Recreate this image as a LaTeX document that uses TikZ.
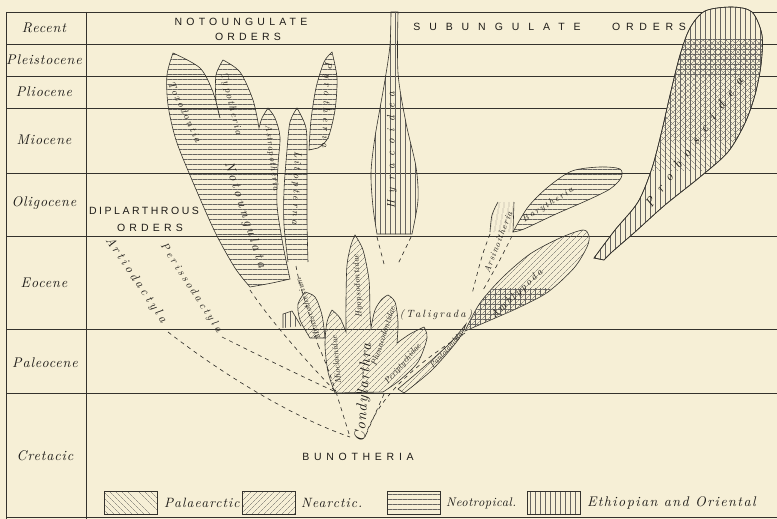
\documentclass[tikz,border=0pt]{standalone}
\usepackage{fontspec}
\newfontfamily\hand{lmroman10-italic.otf}
\newfontfamily\caps{Liberation Sans}
\usetikzlibrary{patterns.meta, positioning}
\definecolor{papel}{RGB}{246,239,214}
\definecolor{tinta}{RGB}{52,50,45}
\definecolor{letra}{RGB}{30,28,25}
\newcommand\trunkpath{plot[smooth] coordinates {(594,258) (615,230) (638,202) (652,168) (662,130) (670,95) (680,55) (690,28) (705,11) (732,7) (752,12) (762,35) (761,65) (755,95) (745,123) (728,152) (700,177) (665,205) (635,232) (612,252) (604,260)} -- cycle}
\newcommand\amblypath{(465,331) -- plot[smooth] coordinates {(465,331) (480,303) (503,277) (530,254) (560,238) (583,230) (589,236) (587,247) (574,268) (548,292) (520,307) (493,319) (465,331)} -- cycle}

\begin{document}
\begin{tikzpicture}[x=1pt, y=-1pt,
      rule/.style={draw=tinta, line width=0.6pt},
      edge/.style={draw=tinta, line width=0.6pt},
      blank/.style={preaction={fill=papel}},
      palae/.style={pattern={Lines[angle=-45,distance=4pt,line width=0.3pt]}, pattern color=tinta!75},
      nearc/.style={pattern={Lines[angle=45,distance=4pt,line width=0.3pt]}, pattern color=tinta!75},
      neotr/.style={pattern={Lines[angle=0,distance=5pt,line width=0.3pt]}, pattern color=tinta!75},
      ethor/.style={pattern={Lines[angle=90,distance=5pt,line width=0.3pt]}, pattern color=tinta!75},
      link/.style={draw=tinta, line width=0.65pt, dash pattern=on 4pt off 4pt},
      period/.style={font=\hand\fontsize{14}{16}\selectfont\addfontfeatures{LetterSpace=6}, text=letra},
      order/.style={font=\caps\fontsize{10.5}{12}\selectfont\addfontfeatures{LetterSpace=40}, text=letra, inner sep=0pt},
      taxon/.style={font=\hand\fontsize{10}{12}\selectfont\addfontfeatures{LetterSpace=20}, text=letra, inner sep=0pt},
      keybox/.style={draw=tinta, line width=0.6pt, minimum width=53pt, minimum height=23pt, inner sep=0pt},
      key/.style={font=\hand\fontsize{13.5}{15}\selectfont\addfontfeatures{LetterSpace=8}, text=letra, inner sep=0pt}]
      \fill[papel] (0,0) rectangle (777,519);
      \useasboundingbox (0,0) rectangle (777,519);
      % Rows of the table
      \foreach \yy in {12,44,76,108,173,236,329,393,517}
        \draw[rule] (6,\yy) -- (777,\yy);
      \draw[rule] (6,12) -- (6,519);
      \draw[rule] (86,12) -- (86,519);
      % Periods
      \node[period] (recent) at (44,28) {Recent};
      \node[period] (pleisto) at (44,60) {Pleistocene};
      \node[period] (plio) at (44,92) {Pliocene};
      \node[period] (mio) at (44,140) {Miocene};
      \node[period] (oligo) at (44,203) {Oligocene};
      \node[period] (eo) at (44,283) {Eocene};
      \node[period] (paleo) at (45,363) {Paleocene};
      \node[period] (creta) at (45,456) {Cretacic};
      % Order headings
      \node[order] (noto) at (241,22) {NOTOUNGULATE};
      \node[order] (notord) at (248,37) {ORDERS};
      \node[order, font=\caps\fontsize{10.5}{12}\selectfont\addfontfeatures{LetterSpace=85}] (subung) at (497,27) {SUBUNGULATE};
      \node[order, font=\caps\fontsize{10.5}{12}\selectfont\addfontfeatures{LetterSpace=55}] (subord) at (649,27) {ORDERS};
      \node[order, font=\caps\fontsize{10.5}{12}\selectfont\addfontfeatures{LetterSpace=24}] (dipla) at (144,211) {DIPLARTHROUS};
      \node[order] (diplord) at (150,228) {ORDERS};
      \node[order, font=\caps\fontsize{10.5}{12}\selectfont\addfontfeatures{LetterSpace=45}] (buno) at (358,457) {BUNOTHERIA};
      % Notoungulate orders
      \draw[edge,neotr] plot[smooth] coordinates {(173,53) (167,75) (168,105) (176,140) (192,180) (215,232) (235,268) (250,287)}
        -- plot[smooth] coordinates {(250,287) (272,283) (290,279)}
        -- plot[smooth] coordinates {(290,279) (283,245) (277,205) (278,165) (280,137) (275,118) (268,108)}
        -- plot[smooth] coordinates {(268,108) (262,118) (259,128)}
        -- plot[smooth] coordinates {(259,128) (253,100) (240,72) (223,60)}
        -- plot[smooth] coordinates {(223,60) (216,75) (216,100) (220,118)}
        -- plot[smooth] coordinates {(220,118) (213,92) (200,68) (173,53)} -- cycle;
      \fill[neotr] (297,108) -- plot[smooth] coordinates {(297,108) (290,122) (287,150) (284,190) (284,225) (288,262)}
        -- (308,262) -- plot[smooth] coordinates {(308,262) (307,220) (307,160) (306,128) (297,108)};
      \draw[edge] plot[smooth] coordinates {(288,262) (284,225) (284,190) (287,150) (290,122) (297,108)}
        -- plot[smooth] coordinates {(297,108) (306,128) (307,160) (307,220) (308,262)};
      \draw[edge,neotr] plot[smooth] coordinates {(332,52) (324,62) (316,88) (311,120) (309,150)}
        -- (318,148) -- plot[smooth] coordinates {(318,148) (328,138) (335,110) (337,78) (332,52)} -- cycle;
      \node[taxon, rotate=-65] (toxo) at (185,112) {Toxodontia};
      \node[taxon, rotate=-76] (typo) at (231,104) {Typotheria};
      \node[taxon, rotate=-83, font=\hand\fontsize{9}{10}\selectfont\addfontfeatures{LetterSpace=12}] (astra) at (272,158) {Astrapotheria};
      \node[taxon, rotate=-92, font=\hand\fontsize{10}{12}\selectfont\addfontfeatures{LetterSpace=30}] (lito) at (296,188) {Litopterna};
      \node[taxon, rotate=-92, font=\hand\fontsize{10}{12}\selectfont\addfontfeatures{LetterSpace=45}] (pyro) at (326,105) {Pyrotheria};
      \node[taxon, rotate=-72, font=\hand\fontsize{13}{14}\selectfont\addfontfeatures{LetterSpace=25}] (notoung) at (245,215) {Notoungulata};
      % Subungulate orders
      \draw[edge,ethor] plot[smooth] coordinates {(391,12) (390,45) (385,80) (375,137) (371,173) (373,207) (377,234)}
        -- (412,234) -- plot[smooth] coordinates {(412,234) (418,200) (416,167) (406,123) (398,73) (398,12)} -- cycle;
      \node[taxon, rotate=90, font=\hand\fontsize{11}{12}\selectfont\addfontfeatures{LetterSpace=65}] (hyrax) at (392,150) {Hyracoidea};
      \draw[edge,blank,ethor] \trunkpath;
      \begin{scope}
        \clip \trunkpath;
        \fill[palae] (630,40) rectangle (777,170);
        \fill[nearc] (630,40) rectangle (777,140);
        \fill[neotr] (630,40) rectangle (777,76);
      \end{scope}
      \draw[edge] \trunkpath;
      \node[taxon, rotate=54, font=\hand\fontsize{13}{14}\selectfont\addfontfeatures{LetterSpace=70}] (probo) at (694,142) {Proboscidea};
      \draw[edge,neotr] (513,232) -- plot[smooth] coordinates {(513,232) (528,207) (548,187) (572,171) (600,167) (620,169) (621,178) (610,189) (588,200) (556,214) (524,229) (513,232)} -- cycle;
      \node[taxon, rotate=32, font=\hand\fontsize{9}{10}\selectfont\addfontfeatures{LetterSpace=20}] (bary) at (548,205) {Barytheria};
      \fill[pattern={Lines[angle=80,distance=4pt,line width=0.3pt]}, pattern color=tinta!75]
        plot[smooth] coordinates {(498,202) (492,215) (490,232)} -- (513,232) -- (514,202) -- cycle;
      \draw[edge] plot[smooth] coordinates {(498,202) (492,215) (490,232)};
      \draw[edge] (514,202) -- (513,232);
      \node[taxon, rotate=69, font=\hand\fontsize{9}{10}\selectfont\addfontfeatures{LetterSpace=12}] (arsino) at (498,242) {Arsinoitheria};
      \draw[edge,nearc] \amblypath;
      \begin{scope}
        \clip \amblypath;
        \fill[neotr] (455,288) rectangle (550,340);
        \fill[ethor] (455,288) rectangle (550,340);
      \end{scope}
      \node[taxon, rotate=43, font=\hand\fontsize{10}{12}\selectfont\addfontfeatures{LetterSpace=25}] (ambly) at (517,294) {Amblypoda};
      \node[taxon, font=\hand\fontsize{10.5}{12}\selectfont\addfontfeatures{LetterSpace=20}] (tali) at (436,315) {(Taligrada)};
      % Condylarthra
      \draw[edge,nearc] plot[smooth] coordinates {(335,393) (328,372) (325,345) (327,322) (332,310)}
        -- plot[smooth] coordinates {(332,310) (340,318) (346,332)}
        -- plot[smooth] coordinates {(346,332) (346,300) (347,265) (351,245) (355,235)}
        -- plot[smooth] coordinates {(355,235) (363,250) (369,280) (370,313) (371,328)}
        -- plot[smooth] coordinates {(371,328) (375,310) (382,299) (388,295)}
        -- plot[smooth] coordinates {(388,295) (395,302) (398,322) (397,343)}
        -- plot[smooth] coordinates {(397,343) (410,334) (424,327)}
        -- plot[smooth] coordinates {(424,327) (427,338) (418,362) (400,380) (383,392)} -- cycle;
      \draw[edge,nearc] plot[smooth] coordinates {(398,389) (425,366) (450,343) (466,324)}
        -- plot[smooth] coordinates {(466,324) (458,340) (432,370) (404,393)} -- cycle;
      \draw[edge,nearc] plot[smooth] coordinates {(310,338) (300,320) (298,304) (305,292)}
        -- plot[smooth] coordinates {(305,292) (315,297) (322,315) (325,338)} -- cycle;
      \draw[edge,ethor] (283,328) -- (283,314) -- (292,311) -- (301,326);
      \node[taxon, rotate=108, font=\hand\fontsize{8.5}{9}\selectfont\addfontfeatures{LetterSpace=5}] (menisco) at (308,309) {Meniscotherium};
      \node[taxon, rotate=95, font=\hand\fontsize{8.5}{9}\selectfont] (mioc) at (336,360) {Mioclaenidae};
      \node[taxon, rotate=93, font=\hand\fontsize{8.5}{9}\selectfont\addfontfeatures{LetterSpace=5}] (hyop) at (358,286) {Hyopsodontidae};
      \node[taxon, rotate=72, font=\hand\fontsize{8.5}{9}\selectfont] (phena) at (383,336) {Phenacodontidae};
      \node[taxon, rotate=49, font=\hand\fontsize{8.5}{9}\selectfont] (peri) at (403,364) {Periptychidae};
      \node[taxon, rotate=48, font=\hand\fontsize{8}{9}\selectfont] (panto) at (446,350) {Pantolambda};
      \node[taxon, rotate=86, font=\hand\fontsize{15}{16}\selectfont\addfontfeatures{LetterSpace=8}] (condy) at (364,393) {Condylarthra};
      % Diplarthrous orders
      \node[taxon, rotate=-56, font=\hand\fontsize{12.5}{14}\selectfont\addfontfeatures{LetterSpace=25}] (artio) at (136,280) {Artiodactyla};
      \node[taxon, rotate=-57, font=\hand\fontsize{11}{12}\selectfont\addfontfeatures{LetterSpace=25}] (periss) at (191,288) {Perissodactyla};
      % Dashed stems
      \coordinate (root) at (350,437);
      \coordinate (rootR) at (365,437);
      \coordinate (condybase) at (336,392);
      \coordinate (artiotip) at (168,332);
      \coordinate (perisstip) at (222,337);
      \draw[link] (artiotip) .. controls (230,380) and (300,420) .. (root);
      \draw[link] (perisstip) .. controls (260,356) and (305,378) .. (condybase);
      \draw[link] (250,290) .. controls (270,320) and (305,360) .. (condybase);
      \draw[link] (296,266) .. controls (300,290) and (312,320) .. (318,345);
      \draw[link] (318,345) .. controls (325,360) and (332,380) .. (condybase);
      \draw[link] (condybase) -- (root);
      \coordinate (condyR) at (384,394);
      \draw[link] (condyR) -- (rootR);
      \coordinate (amblytip) at (465,333);
      \draw[link] (amblytip) .. controls (430,355) and (380,390) .. (rootR);
      \coordinate (hyraxL) at (377,237);
      \coordinate (hyraxLend) at (384,264);
      \coordinate (hyraxR) at (411,237);
      \coordinate (hyraxRend) at (398,264);
      \draw[link] (hyraxL) -- (hyraxLend);
      \draw[link] (hyraxR) -- (hyraxRend);
      \coordinate (arsL) at (490,234);
      \coordinate (arsR) at (512,236);
      \coordinate (arsend) at (472,294);
      \draw[link] (arsL) .. controls (482,255) .. (arsend);
      \draw[link] (arsR) .. controls (500,260) .. (482,292);
      % Key
      \node[keybox, palae] (kpal) at (131,503) {};
      \node[key, right=6pt of kpal] (tpal) {Palaearctic.};
      \node[keybox, nearc] (knea) at (269,503) {};
      \node[key, right=5pt of knea] (tnea) {Nearctic.};
      \node[keybox, neotr] (kneo) at (414,503) {};
      \node[key, right=5pt of kneo, font=\hand\fontsize{12.5}{15}\selectfont\addfontfeatures{LetterSpace=4}] (tneo) {Neotropical.};
      \node[keybox, ethor] (keth) at (554,503) {};
      \node[key, right=6pt of keth, font=\hand\fontsize{14}{15}\selectfont\addfontfeatures{LetterSpace=10}] (teth) {Ethiopian and Oriental};
    \end{tikzpicture}
\end{document}
